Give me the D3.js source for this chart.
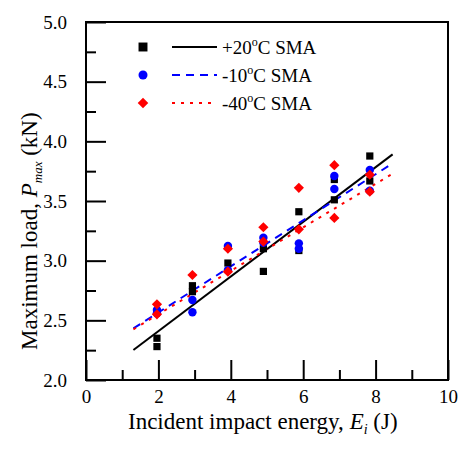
<!DOCTYPE html>
<html>
<head>
<meta charset="utf-8">
<script src="https://cdn.jsdelivr.net/npm/d3@7"></script>
<style>
  html, body { margin: 0; padding: 0; background: #fff; }
  svg { display: block; font-family: "Liberation Serif", "Times New Roman", serif; }
</style>
</head>
<body>
<svg id="chart" width="471" height="464"></svg>
<script>
// ---- data ----
const seriesNames = ["+20", "-10", "-40"];
const xTicksMajor = [0, 2, 4, 6, 8, 10];
const xTicksMinor = [1, 3, 5, 7, 9];
const yTicksMajor = [2.0, 2.5, 3.0, 3.5, 4.0, 4.5, 5.0];
const yTicksMinor = [2.25, 2.75, 3.25, 3.75, 4.25, 4.75];

const p20X = [1.96, 1.96, 2.94, 2.94, 3.92, 4.90, 4.90, 5.88, 5.88, 6.86, 6.86, 7.84, 7.84];
const p20Y = [2.35, 2.28, 2.79, 2.74, 2.98, 3.10, 2.91, 3.41, 3.085, 3.68, 3.51, 3.877, 3.668];

const m10X = [1.96, 1.96, 2.94, 2.94, 3.92, 3.92, 4.90, 4.90, 5.88, 5.88, 6.86, 6.86, 7.84, 7.84];
const m10Y = [2.587, 2.56, 2.67, 2.567, 3.123, 2.92, 3.193, 3.15, 3.145, 3.10, 3.71, 3.60, 3.76, 3.586];

const m40X = [1.96, 1.96, 2.94, 3.92, 3.92, 4.90, 4.90, 5.88, 5.88, 6.86, 6.86, 7.84, 7.84];
const m40Y = [2.634, 2.55, 2.88, 3.10, 2.908, 3.28, 3.16, 3.61, 3.263, 3.80, 3.358, 3.72, 3.578];

// trend line end points
const fitX = [1.31, 8.47];
const fit20Y = [2.251, 3.891];
const fit10Y = [2.433, 3.815];
const fit40Y = [2.425, 3.729];

// ---- layout ----
const svg = d3.select("#chart");
const L = 86, R = 448, T = 22, B = 380;
const x = d3.scaleLinear().domain([0, 10]).range([L, R]);
const y = d3.scaleLinear().domain([2, 5]).range([B, T]);

const tickFont = 19;

// axes: minor ticks
svg.append("g").attr("transform", `translate(0,${B})`)
  .call(d3.axisBottom(x).tickValues(xTicksMinor).tickSize(-10).tickFormat(""))
  .call(g => g.select(".domain").remove());
svg.append("g").attr("transform", `translate(${L},0)`)
  .call(d3.axisLeft(y).tickValues(yTicksMinor).tickSize(-10).tickFormat(""))
  .call(g => g.select(".domain").remove());

// major ticks with labels
svg.append("g").attr("transform", `translate(0,${B})`)
  .call(d3.axisBottom(x).tickValues(xTicksMajor).tickSize(-20).tickPadding(10).tickFormat(d3.format("d")))
  .call(g => g.select(".domain").remove());
svg.append("g").attr("transform", `translate(${L},0)`)
  .call(d3.axisLeft(y).tickValues(yTicksMajor).tickSize(-20).tickPadding(19).tickFormat(d3.format(".1f")))
  .call(g => g.select(".domain").remove());

svg.selectAll(".tick line").attr("stroke", "#000").attr("stroke-width", 2);
svg.selectAll(".tick text").attr("font-family", "Liberation Serif").attr("font-size", tickFont).attr("fill", "#000");

// frame
svg.append("rect").attr("x", L).attr("y", T).attr("width", R - L).attr("height", B - T)
  .attr("fill", "none").attr("stroke", "#000").attr("stroke-width", 2);

// axis titles
const xt = svg.append("text").attr("x", 128).attr("y", 429)
  .attr("text-anchor", "start").attr("font-size", 23).attr("fill", "#000");
xt.append("tspan").text("Incident impact energy, ");
xt.append("tspan").attr("font-style", "italic").text("E");
xt.append("tspan").attr("font-style", "italic").attr("font-size", 14).attr("dy", 5).text("i");
xt.append("tspan").attr("dy", -5).text(" (J)");

const yt = svg.append("text").attr("transform", `translate(37,350) rotate(-90)`)
  .attr("text-anchor", "start").attr("font-size", 23).attr("fill", "#000");
yt.append("tspan").text("Maximum load, ");
yt.append("tspan").attr("font-style", "italic").text("P");
yt.append("tspan").attr("font-style", "italic").attr("font-size", 13).attr("dy", 5).text("max");
yt.append("tspan").attr("dy", -5).text(" (kN)");

// trend lines
const line = d3.line().x(d => x(d[0])).y(d => y(d[1]));
const lines = [
  { ys: fit20Y, color: "#000", dash: null },
  { ys: fit10Y, color: "#0000ff", dash: "8,6" },
  { ys: fit40Y, color: "#ff0000", dash: "3,6" }
];
lines.forEach(l => {
  svg.append("path").datum(fitX.map((v, i) => [v, l.ys[i]]))
    .attr("d", line).attr("fill", "none").attr("stroke", l.color)
    .attr("stroke-width", 2).attr("stroke-dasharray", l.dash);
});

// markers
const sq = d3.symbol().type(d3.symbolSquare).size(52);
const ci = d3.symbol().type(d3.symbolCircle).size(56);

function drawPts(xs, ys, sym, color, rot) {
  svg.append("g").selectAll("path").data(xs.map((v, i) => [v, ys[i]])).join("path")
    .attr("d", sym)
    .attr("transform", d => `translate(${x(d[0])},${y(d[1])})` + (rot ? " rotate(45)" : ""))
    .attr("fill", color);
}
drawPts(p20X, p20Y, sq, "#000", false);
drawPts(m10X, m10Y, ci, "#0000ff", false);
drawPts(m40X, m40Y, sq, "#ff0000", true);

// legend
const legY = [47, 75, 103];
const legColors = ["#000", "#0000ff", "#ff0000"];
const legDash = [null, "8,6", "3,6"];
const legSym = [d3.symbol().type(d3.symbolSquare).size(80), d3.symbol().type(d3.symbolCircle).size(64), d3.symbol().type(d3.symbolSquare).size(56)];
seriesNames.forEach((name, i) => {
  svg.append("path").attr("d", legSym[i]())
    .attr("transform", `translate(143,${legY[i]})` + (i === 2 ? " rotate(45)" : ""))
    .attr("fill", legColors[i]);
  svg.append("line").attr("x1", 172).attr("x2", 217).attr("y1", legY[i]).attr("y2", legY[i])
    .attr("stroke", legColors[i]).attr("stroke-width", 2).attr("stroke-dasharray", legDash[i]);
  const t = svg.append("text").attr("x", 222).attr("y", legY[i] + 6.5)
    .attr("font-size", 19).attr("fill", "#000");
  t.append("tspan").text(name);
  t.append("tspan").attr("font-size", 12).attr("dy", -8).text("o");
  t.append("tspan").attr("dy", 8).text("C SMA");
});
</script>
</body>
</html>
